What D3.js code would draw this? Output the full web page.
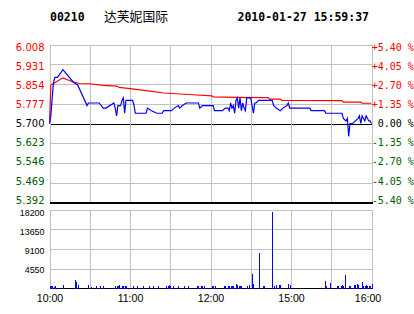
<!DOCTYPE html>
<html><head><meta charset="utf-8">
<script src="https://cdn.jsdelivr.net/npm/d3@7"></script>
<style>body{margin:0;background:#fff}svg{display:block}</style>
</head><body><svg id="c" width="414" height="314"></svg>
<script>
// ---- data ----
const stockCode = "00210";
const stockName = "达芙妮国际";
const stamp = "2010-01-27 15:59:37";
const prevClose = 5.700;
const priceTickLabels = ["6.008","5.931","5.854","5.777","5.700","5.623","5.546","5.469","5.392"];
const pctTickLabels = ["+5.40 %","+4.05 %","+2.70 %","+1.35 %","0.00 %","-1.35 %","-2.70 %","-4.05 %","-5.40 %"];
const volTickValues = [18200,13650,9100,4550];
const timeLabels = ["10:00","11:00","12:00","15:00","16:00"];
const timeLabelMinutes = [0,60,120,180,240];
const gridMinutes = [0,30,60,90,120,150,180,210,240];

// price line (minute offset from 10:00, trading minutes; 150 = 12:30/14:30)
const priceMinutes = [0,1,2,3,4,6,10,18,21,28,29,37,40,42,48,49,50,51,53,54,55,56,57,62,63,64,72,73,76,80,84,85,91,93,96,97,99,102,111,112,114,122,123,129,131,133,134,135,136,137,138,139,140,141,142,143,144,145,146,147,150,151,152,153,154,156,166,167,169,172,174,177,178,179,182,194,195,205,206,218,219,221,222,223,224,226,228,230,231,232,233,235,236,238,239,240];
const priceValues  = [5.70,5.73,5.80,5.86,5.88,5.88,5.91,5.86,5.85,5.77,5.78,5.78,5.76,5.76,5.78,5.76,5.73,5.77,5.77,5.79,5.80,5.74,5.79,5.79,5.77,5.74,5.74,5.76,5.75,5.74,5.74,5.75,5.75,5.76,5.77,5.76,5.77,5.78,5.78,5.76,5.77,5.77,5.75,5.75,5.76,5.76,5.75,5.78,5.76,5.77,5.74,5.79,5.80,5.76,5.80,5.75,5.78,5.76,5.75,5.80,5.80,5.77,5.74,5.78,5.78,5.79,5.79,5.77,5.76,5.75,5.76,5.77,5.78,5.76,5.76,5.76,5.75,5.75,5.74,5.74,5.72,5.71,5.72,5.65,5.70,5.70,5.71,5.72,5.73,5.70,5.73,5.71,5.73,5.71,5.71,5.70];

// average price line
const avgMinutes = [0,1,3,10,17,22,30,40,50,52,60,75,85,107,121,122,138,163,164,172,173,218,219,232,233,240];
const avgValues  = [5.700,5.850,5.856,5.878,5.863,5.856,5.855,5.849,5.846,5.841,5.836,5.826,5.819,5.812,5.808,5.804,5.802,5.801,5.795,5.795,5.790,5.789,5.783,5.783,5.779,5.779];

// volume bars
const volMinutes = [0,1,2,3,4,10,19,20,21,29,31,35,38,40,49,50,51,52,54,55,56,57,62,65,70,74,77,81,87,88,89,90,92,96,100,103,110,111,113,114,115,121,122,123,130,131,133,134,135,136,137,139,140,141,142,143,147,149,151,152,156,159,160,166,167,169,171,172,178,179,205,206,209,214,215,217,218,219,220,223,224,227,228,229,230,233,234,235,236,237,238,239,240];
const volValues  = [500,500,500,400,500,700,1900,1500,700,700,400,500,500,500,600,500,600,700,500,600,500,600,600,500,500,500,500,500,600,500,700,500,500,600,500,500,500,500,500,500,500,500,500,500,500,500,600,500,600,600,600,1000,800,600,500,600,500,700,3300,1000,8200,500,500,17700,500,700,700,800,1150,700,1700,500,1300,500,500,600,700,600,3100,500,500,700,800,1000,700,1550,600,500,700,500,600,500,1000];

// ---- drawing ----
const svg = d3.select("#c");
const X0 = 49.5, X1 = 371.5;
const PT = 44.5, PB = 202.5;
const VT = 209.5, VB = 288.5;
const GRID = "#c0c0c0", RED = "#ff0000", GREEN = "#006000", BLUE = "#0000ff";
const priceNums = priceTickLabels.map(Number);

const x = d3.scaleLinear().domain([0,240]).range([X0,X1]);
const y = d3.scaleLinear().domain([d3.min(priceNums), d3.max(priceNums)]).range([PB,PT]);
const yLab = d3.scaleLinear().domain([d3.min(priceNums), d3.max(priceNums)]).range([200,47.5]);
const yv = d3.scaleLinear().domain([0, d3.max(volTickValues)]).range([VB,VT]);
const yvLab = d3.scaleLinear().domain([4550,18200]).range([269.8,213]);

// header
svg.append("text").attr("x",50).attr("y",20.5).text(stockCode)
  .attr("font-family","DejaVu Sans Mono").attr("font-weight","bold").attr("font-size","11.5px");
svg.append("text").attr("x",104).attr("y",20.5).text(stockName)
  .attr("font-family","Noto Sans CJK SC").attr("font-size","12.8px");
svg.append("text").attr("x",237.5).attr("y",20.5).text(stamp)
  .attr("font-family","DejaVu Sans Mono").attr("font-weight","bold").attr("font-size","11.5px");

const g = svg.append("g");
// price grid
priceNums.forEach((v,i)=>{
  if (i===priceNums.length-1) return;
  g.append("line").attr("x1",X0).attr("x2",X1).attr("y1",Math.round(y(v))+0.5).attr("y2",Math.round(y(v))+0.5)
    .attr("stroke", v===prevClose ? "#000" : GRID).attr("stroke-width",1).attr("shape-rendering","crispEdges");
});
gridMinutes.forEach(m=>{
  const xx = Math.round(x(m))+0.5;
  g.append("line").attr("x1",xx).attr("x2",xx).attr("y1",PT).attr("y2",PB).attr("stroke",GRID).attr("shape-rendering","crispEdges");
  g.append("line").attr("x1",xx).attr("x2",xx).attr("y1",VT).attr("y2",VB).attr("stroke",GRID).attr("shape-rendering","crispEdges");
});
// volume grid
volTickValues.forEach(v=>{
  const yy = Math.round(yv(v))+0.5;
  g.append("line").attr("x1",X0).attr("x2",X1).attr("y1",yy).attr("y2",yy).attr("stroke",GRID).attr("shape-rendering","crispEdges");
});
// bottom black lines
g.append("line").attr("x1",X0).attr("x2",X1+1).attr("y1",PB+0.5).attr("y2",PB+0.5).attr("stroke","#000").attr("stroke-width",2).attr("shape-rendering","crispEdges");
g.append("line").attr("x1",X0).attr("x2",X1+1).attr("y1",VB).attr("y2",VB).attr("stroke","#000").attr("stroke-width",1.5).attr("shape-rendering","crispEdges");

// price labels left
priceNums.forEach((v,i)=>{
  svg.append("text").attr("x",44.5).attr("y",yLab(v)).attr("dy","0.36em").attr("text-anchor","end")
    .attr("font-family","DejaVu Sans").attr("font-size","10px")
    .attr("fill", v>prevClose?RED:(v<prevClose?GREEN:"#000")).text(priceTickLabels[i]);
  svg.append("text").attr("x",413.8).attr("y",yLab(v)).attr("dy","0.36em").attr("text-anchor","end")
    .attr("font-family","DejaVu Sans Mono").attr("font-size","10px")
    .attr("fill", v>prevClose?RED:(v<prevClose?GREEN:"#000")).text(pctTickLabels[i]);
});
// volume labels
volTickValues.forEach(v=>{
  svg.append("text").attr("x",44.5).attr("y",yvLab(v)).attr("dy","0.36em").attr("text-anchor","end")
    .attr("font-family","Liberation Sans").attr("font-size","8.9px").attr("fill","#000").text(String(v));
});
// time labels
timeLabels.forEach((t,i)=>{
  const m = timeLabelMinutes[i];
  svg.append("text").attr("x", m===240 ? x(m)-3.5 : x(m)+0.5).attr("y",302).attr("text-anchor","middle")
    .attr("font-family","Liberation Sans").attr("font-size","10.6px").attr("fill","#000").text(t);
});

// volume bars
svg.append("g").selectAll("rect").data(volMinutes.map((m,i)=>({m, v:volValues[i]}))).join("rect")
  .attr("x",d=>Math.round(x(d.m))).attr("width",1)
  .attr("y",d=>Math.round(yv(d.v))).attr("height",d=>VB-Math.round(yv(d.v)))
  .attr("fill",BLUE).attr("shape-rendering","crispEdges");

// lines
const line = d3.line().x(d=>x(d[0])).y(d=>y(d[1]));
svg.append("path").attr("d", line(avgMinutes.map((m,i)=>[m,avgValues[i]])))
  .attr("fill","none").attr("stroke",RED).attr("stroke-width",1.2);
svg.append("path").attr("d", line(priceMinutes.map((m,i)=>[m,priceValues[i]])))
  .attr("fill","none").attr("stroke",BLUE).attr("stroke-width",1.2);
</script>
</body></html>
